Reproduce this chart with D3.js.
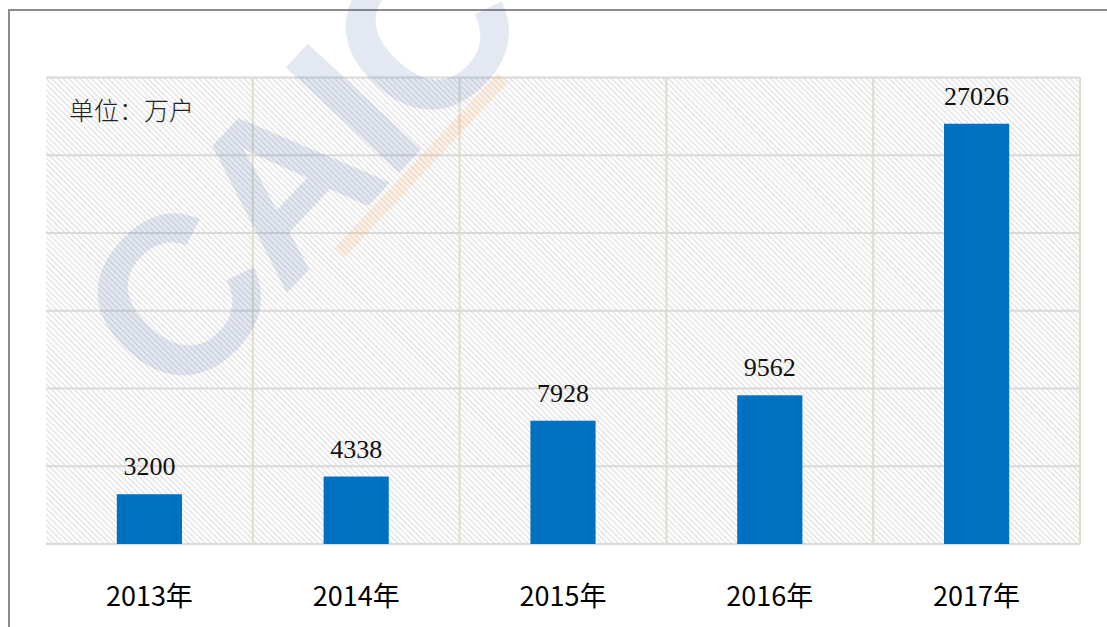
<!DOCTYPE html>
<html>
<head>
<meta charset="utf-8">
<script src="https://cdn.jsdelivr.net/npm/d3@7"></script>
<style>
  body { margin: 0; background: #fff; }
  svg { display: block; }
</style>
</head>
<body>
<div id="chart"></div>
<script>
// dados do gráfico
const years = ['2013年', '2014年', '2015年', '2016年', '2017年'];
const values = [3200, 4338, 7928, 9562, 27026];
const yTicks = [0, 5000, 10000, 15000, 20000, 25000, 30000];
const unitLabel = '单位：万户';

const W = 1107, H = 627;
const margin = { top: 77.5, right: 27, bottom: 83, left: 46 };
const width = W - margin.left - margin.right;
const height = H - margin.top - margin.bottom;

const svg = d3.select('#chart').append('svg')
  .attr('width', W).attr('height', H);

// padrão de hachura diagonal (de cima-esquerda para baixo-direita)
const defs = svg.append('defs');
const pat = defs.append('pattern')
  .attr('id', 'hatch')
  .attr('patternUnits', 'userSpaceOnUse')
  .attr('width', 4).attr('height', 4)
  .attr('patternTransform', 'rotate(45)');
pat.append('rect').attr('width', 4).attr('height', 4).attr('fill', '#fff');
pat.append('line')
  .attr('x1', 0).attr('y1', 0).attr('x2', 4).attr('y2', 0)
  .attr('stroke', '#dedede').attr('stroke-width', 2.4);

// borda externa
svg.append('rect')
  .attr('x', 9).attr('y', 10).attr('width', W + 20).attr('height', H + 20)
  .attr('fill', 'none').attr('stroke', '#8c8c8c').attr('stroke-width', 2);

const g = svg.append('g').attr('transform', `translate(${margin.left},${margin.top})`);

const x = d3.scaleBand().domain(years).range([0, width]);
const y = d3.scaleLinear().domain([0, 30000]).range([height, 0]);

g.append('rect').attr('width', width).attr('height', height).attr('fill', 'url(#hatch)');

// marca d'água
const wm = svg.append('g').attr('transform', 'translate(178,410) rotate(-47)');
wm.append('text')
  .attr('x', 0).attr('y', 0)
  .attr('font-family', 'Liberation Sans, Arial, sans-serif')
  .attr('font-weight', 'bold')
  .attr('font-size', 225)
  .attr('letter-spacing', -8)
  .attr('fill', 'rgba(60,90,170,0.14)')
  .text('CAICT');
wm.append('rect')
  .attr('x', 225).attr('y', 4).attr('width', 240).attr('height', 14)
  .attr('fill', 'rgba(255,150,40,0.13)');

// linhas de grade horizontais
g.append('g').selectAll('line').data(yTicks).join('line')
  .attr('x1', 0).attr('x2', width)
  .attr('y1', d => y(d)).attr('y2', d => y(d))
  .attr('stroke', '#d9d9d9').attr('stroke-width', 2);

// linhas de grade verticais
const vx = years.map(c => x(c)).concat([width]);
g.append('g').selectAll('line').data(vx.slice(1)).join('line')
  .attr('x1', d => d).attr('x2', d => d)
  .attr('y1', 0).attr('y2', height)
  .attr('stroke', '#deddcc').attr('stroke-width', 2);

// barras
const barW = x.bandwidth() * 0.315;
g.append('g').selectAll('rect').data(values).join('rect')
  .attr('x', (d, i) => x(years[i]) + x.bandwidth() / 2 - barW / 2)
  .attr('y', d => y(d))
  .attr('width', barW)
  .attr('height', d => height - y(d))
  .attr('fill', '#0070c0');

// rótulos de valor
g.append('g').selectAll('text').data(values).join('text')
  .attr('x', (d, i) => x(years[i]) + x.bandwidth() / 2)
  .attr('y', d => y(d) - 19)
  .attr('text-anchor', 'middle')
  .attr('font-family', 'Liberation Serif, Times New Roman, serif')
  .attr('font-size', 26)
  .attr('fill', '#111')
  .text(d => d);

// rótulos das categorias
g.append('g').selectAll('text').data(years).join('text')
  .attr('x', d => x(d) + x.bandwidth() / 2)
  .attr('y', height + 62)
  .attr('text-anchor', 'middle')
  .attr('font-family', 'Noto Sans CJK SC, sans-serif')
  .attr('font-size', 27)
  .attr('fill', '#000')
  .text(d => d);

// unidade
svg.append('text')
  .attr('x', 69).attr('y', 120)
  .attr('font-family', 'Noto Sans CJK SC, sans-serif')
  .attr('font-weight', 300)
  .attr('font-size', 25)
  .attr('fill', '#222')
  .text(unitLabel);
</script>
</body>
</html>
